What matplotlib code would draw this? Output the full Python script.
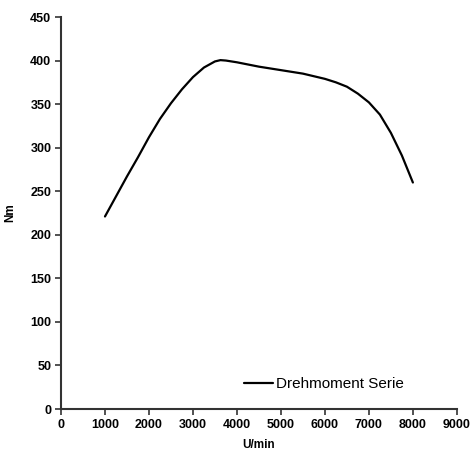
import numpy as np
import matplotlib.pyplot as plt

plt.rcParams['font.family'] = ['Liberation Sans', 'DejaVu Sans']

# torque curve
rpm = [1000, 1250, 1500, 1750, 2000, 2250, 2500, 2750, 3000, 3250, 3500,
       3625, 3750, 4000, 4500, 5000, 5500, 6000, 6250, 6500, 6750, 7000,
       7250, 7500, 7750, 8000]
torque = [221, 244, 267, 289, 312, 333, 351, 367, 381, 392, 399,
          400.5, 400, 398, 393, 389, 385, 379, 375, 370, 362, 352,
          338, 317, 291, 260]

xticks = [0, 1000, 2000, 3000, 4000, 5000, 6000, 7000, 8000, 9000]
yticks = [0, 50, 100, 150, 200, 250, 300, 350, 400, 450]

fig = plt.figure(figsize=(4.71, 4.51), dpi=100)
ax = fig.add_axes([0.1295, 0.0931, 0.8405, 0.8692])
ax.plot(rpm, torque, color='black', lw=1.6, label='Drehmoment Serie',
        solid_joinstyle='round', solid_capstyle='round')

ax.set_xlim(0, 9000)
ax.set_ylim(0, 450)
ax.set_xticks(xticks)
ax.set_yticks(yticks)
ax.tick_params(labelsize=9, length=4, width=1.2, color='#333333', pad=3)
for lab in ax.get_xticklabels() + ax.get_yticklabels():
    lab.set_fontweight('bold')
for s in ['top', 'right']:
    ax.spines[s].set_visible(False)
for s in ['left', 'bottom']:
    ax.spines[s].set_linewidth(1.5)
    ax.spines[s].set_color('#333333')

ax.set_xlabel('U/min', fontsize=8.5, fontweight='bold', labelpad=6)
ax.set_ylabel('Nm', fontsize=8.5, fontweight='bold', labelpad=10)

ax.legend(frameon=False, fontsize=11, loc='center left',
          bbox_to_anchor=(0.518, 0.1486), bbox_transform=fig.transFigure,
          borderaxespad=0, borderpad=0, handlelength=1.9, handletextpad=0.2)

fig.savefig('out.png', dpi=100)
